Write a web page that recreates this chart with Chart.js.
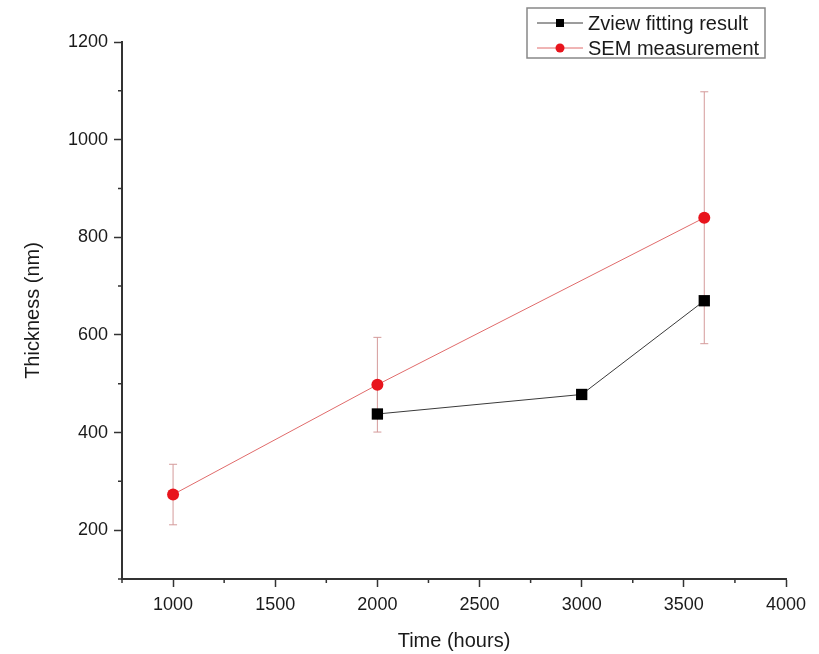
<!DOCTYPE html>
<html>
<head>
<meta charset="utf-8">
<title>Thickness vs time</title>
<script src="https://cdn.jsdelivr.net/npm/chart.js@4.4.1/dist/chart.umd.min.js"></script>
<style>
    body { margin: 0; background: #fff; }
    canvas { display: block; }
</style>
</head>
<body>
<canvas id="thicknessChart" width="819" height="654"></canvas>
<script>
// values
const zviewTime = [2000, 3000, 3600];
const zviewThickness = [438, 478, 670];

const semTime = [1000, 2000, 3600];
const semThickness = [273, 498, 840];
const semError = [62, 97, 258];

const xMin = 750, xMax = 4000, xStep = 250, xLabelStep = 500;
const yMin = 100, yMax = 1200, yStep = 100, yLabelStep = 200;

const FONT = '"Liberation Sans", Arial, sans-serif';

function isMajor(value, step) {
    return Math.abs(value % step) < 1e-6;
}

// error bars, drawn under the markers
const errorBars = {
    id: 'errorBars',
    beforeDatasetsDraw(chart) {
        const ctx = chart.ctx;
        const xs = chart.scales.x;
        const ys = chart.scales.y;
        chart.data.datasets.forEach(ds => {
            if (!ds.errors) return;
            ctx.save();
            ctx.strokeStyle = ds.errorColor;
            ctx.lineWidth = 1;
            ds.data.forEach((p, i) => {
                const px = xs.getPixelForValue(p.x);
                const top = ys.getPixelForValue(p.y + ds.errors[i]);
                const bot = ys.getPixelForValue(p.y - ds.errors[i]);
                ctx.beginPath();
                ctx.moveTo(px, top);
                ctx.lineTo(px, bot);
                ctx.moveTo(px - 4, top);
                ctx.lineTo(px + 4, top);
                ctx.moveTo(px - 4, bot);
                ctx.lineTo(px + 4, bot);
                ctx.stroke();
            });
            ctx.restore();
        });
    }
};

// short unlabeled ticks between the labeled ones
const minorTicks = {
    id: 'minorTicks',
    afterDraw(chart) {
        const ctx = chart.ctx;
        const xs = chart.scales.x;
        const ys = chart.scales.y;
        ctx.save();
        ctx.strokeStyle = '#333';
        ctx.lineWidth = 1.5;
        ctx.beginPath();
        xs.ticks.forEach(t => {
            if (isMajor(t.value, xLabelStep)) return;
            const px = xs.getPixelForValue(t.value);
            ctx.moveTo(px, xs.top);
            ctx.lineTo(px, xs.top + 4);
        });
        ys.ticks.forEach(t => {
            if (isMajor(t.value, yLabelStep)) return;
            const py = ys.getPixelForValue(t.value);
            ctx.moveTo(ys.right, py);
            ctx.lineTo(ys.right - 4, py);
        });
        ctx.stroke();
        ctx.restore();
    }
};

// boxed legend with line + marker samples
const boxLegend = {
    id: 'boxLegend',
    afterDraw(chart) {
        const ctx = chart.ctx;
        const left = chart.width - 292;
        const top = 8;
        const w = 238, h = 50;
        ctx.save();
        ctx.fillStyle = '#fff';
        ctx.fillRect(left, top, w, h);
        ctx.strokeStyle = '#888';
        ctx.lineWidth = 1.5;
        ctx.strokeRect(left, top, w, h);
        ctx.font = '20px ' + FONT;
        ctx.textBaseline = 'middle';
        chart.data.datasets.forEach((ds, i) => {
            const y = top + 15 + i * 25;
            ctx.strokeStyle = ds.borderColor;
            ctx.lineWidth = 1;
            ctx.beginPath();
            ctx.moveTo(left + 10, y);
            ctx.lineTo(left + 56, y);
            ctx.stroke();
            ctx.fillStyle = ds.pointBackgroundColor;
            if (ds.pointStyle === 'rect') {
                ctx.fillRect(left + 29, y - 4, 8, 8);
            } else {
                ctx.beginPath();
                ctx.arc(left + 33, y, 4.5, 0, Math.PI * 2);
                ctx.fill();
            }
            ctx.fillStyle = '#1a1a1a';
            ctx.fillText(ds.label, left + 61, y + 1);
        });
        ctx.restore();
    }
};

const ctx = document.getElementById('thicknessChart').getContext('2d');

const myChart = new Chart(ctx, {
    type: 'line',
    data: {
        datasets: [{
            label: 'Zview fitting result',
            data: zviewTime.map((t, i) => ({ x: t, y: zviewThickness[i] })),
            borderColor: '#3a3a3a',
            borderWidth: 1,
            pointStyle: 'rect',
            pointRadius: 8,
            pointBackgroundColor: '#000',
            pointBorderColor: '#000',
            pointBorderWidth: 0,
            tension: 0
        }, {
            label: 'SEM measurement',
            data: semTime.map((t, i) => ({ x: t, y: semThickness[i] })),
            errors: semError,
            errorColor: '#d49a9a',
            borderColor: '#e06b6b',
            borderWidth: 1,
            pointStyle: 'circle',
            pointRadius: 6,
            pointBackgroundColor: '#e8141c',
            pointBorderColor: '#e8141c',
            pointBorderWidth: 0,
            tension: 0
        }]
    },
    options: {
        responsive: false,
        animation: false,
        devicePixelRatio: 1,
        layout: {
            padding: { left: 0, right: 33, top: 42, bottom: 0 }
        },
        plugins: {
            legend: { display: false },
            tooltip: { enabled: false }
        },
        scales: {
            x: {
                type: 'linear',
                position: 'bottom',
                min: xMin,
                max: xMax,
                afterFit(scale) { scale.height = 75; },
                border: { display: true, color: '#333', width: 2 },
                grid: {
                    drawOnChartArea: false,
                    drawTicks: true,
                    tickLength: 8,
                    tickWidth: 1.5,
                    tickColor: c => isMajor(c.tick.value, xLabelStep) ? '#333' : 'rgba(0,0,0,0)'
                },
                ticks: {
                    stepSize: xStep,
                    padding: 7,
                    color: '#1a1a1a',
                    font: { family: FONT, size: 18 },
                    maxRotation: 0,
                    autoSkip: false,
                    callback: v => isMajor(v, xLabelStep) ? String(v) : ''
                },
                title: {
                    display: true,
                    text: 'Time (hours)',
                    color: '#1a1a1a',
                    font: { family: FONT, size: 20 },
                    padding: { top: 0, bottom: 1 }
                }
            },
            y: {
                type: 'linear',
                min: yMin,
                max: yMax,
                afterFit(scale) { scale.width = 122; },
                border: { display: true, color: '#333', width: 2 },
                grid: {
                    drawOnChartArea: false,
                    drawTicks: true,
                    tickLength: 8,
                    tickWidth: 1.5,
                    tickColor: c => isMajor(c.tick.value, yLabelStep) ? '#333' : 'rgba(0,0,0,0)'
                },
                ticks: {
                    stepSize: yStep,
                    padding: 6,
                    color: '#1a1a1a',
                    font: { family: FONT, size: 18 },
                    autoSkip: false,
                    callback: v => isMajor(v, yLabelStep) ? String(v) : ''
                },
                title: {
                    display: true,
                    text: 'Thickness (nm)',
                    color: '#1a1a1a',
                    font: { family: FONT, size: 20 },
                    padding: { top: 21, bottom: 0 }
                }
            }
        }
    },
    plugins: [errorBars, minorTicks, boxLegend]
});
</script>
</body>
</html>
